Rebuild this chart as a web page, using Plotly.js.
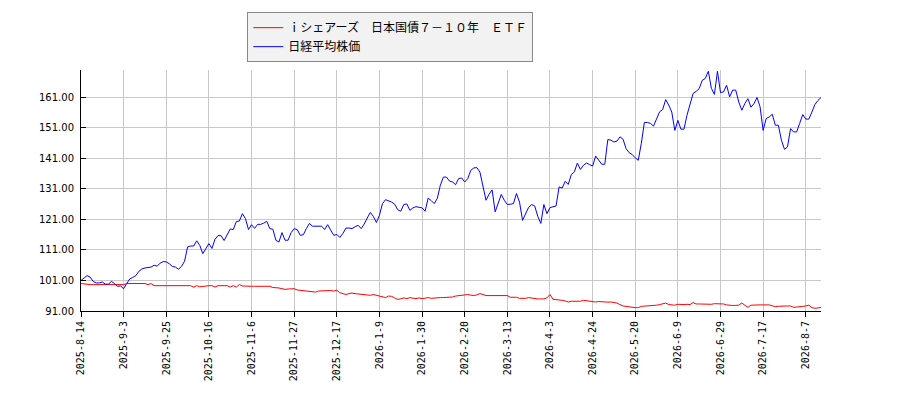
<!DOCTYPE html>
<html>
<head>
<meta charset="utf-8">
<script src="https://cdn.plot.ly/plotly-3.0.1.min.js"></script>
<style>html,body{margin:0;padding:0;background:#fff;}#chart{width:900px;height:400px;}</style>
</head>
<body>
<div id="chart"></div>
<script>
const seriesNames = ["ｉシェアーズ　日本国債７－１０年　ＥＴＦ", "日経平均株価"];

const tickLabels = ["2025-8-14","2025-9-3","2025-9-25","2025-10-16","2025-11-6","2025-11-27","2025-12-17","2026-1-9","2026-1-30","2026-2-20","2026-3-13","2026-4-3","2026-4-24","2026-5-20","2026-6-9","2026-6-29","2026-7-17","2026-8-7"];
const tickEvery = 14; // trading days between labelled dates

const etfValues = [
100.0, 99.8, 99.65, 99.65, 99.65, 99.65, 99.65, 99.65, 99.65, 99.65,
99.65, 99.65, 99.65, 99.65, 99.65, 100.0, 100.0, 100.0, 100.0, 100.0,
100.0, 100.0, 99.65, 100.0, 99.3, 99.3, 99.3, 99.3, 99.3, 99.3,
99.3, 99.3, 99.3, 99.3, 99.3, 99.3, 99.3, 98.8, 99.3, 98.95,
99.1, 99.3, 99.3, 99.3, 98.85, 99.3, 99.3, 99.3, 99.3, 98.85,
99.3, 98.85, 99.65, 99.2, 99.1, 99.1, 99.1, 99.1, 99.1, 99.1,
99.1, 99.1, 99.1, 98.7, 98.65, 98.55, 98.3, 98.1, 98.2, 98.3,
98.3, 97.9, 97.8, 97.7, 97.6, 97.45, 97.3, 97.2, 97.55, 97.6,
97.7, 97.8, 97.7, 97.55, 97.8, 97.0, 96.7, 96.4, 96.7, 96.9,
96.7, 96.6, 96.5, 96.5, 96.3, 96.15, 96.4, 96.1, 95.9, 95.6,
95.4, 95.9, 95.8, 95.3, 94.8, 95.0, 95.3, 95.05, 95.4, 95.2,
95.05, 95.3, 95.05, 95.2, 95.4, 95.15, 95.3, 95.4, 95.4, 95.4,
95.4, 95.4, 95.6, 95.9, 96.0, 96.1, 96.15, 96.4, 96.2, 96.05,
96.3, 96.7, 96.4, 96.05, 96.05, 96.05, 96.05, 96.05, 96.05, 96.05,
96.05, 95.5, 95.5, 95.5, 95.15, 95.15, 95.15, 95.4, 95.2, 95.0,
94.95, 94.95, 94.95, 95.3, 96.4, 94.85, 94.8, 94.7, 94.5, 94.3,
93.95, 94.2, 94.2, 94.2, 94.2, 94.5, 94.4, 94.4, 94.2, 93.95,
94.1, 94.0, 93.85, 93.9, 93.95, 93.8, 93.6, 93.1, 92.65, 92.5,
92.3, 92.2, 92.1, 92.1, 92.5, 92.6, 92.65, 92.7, 92.8, 92.9,
93.1, 93.3, 93.6, 93.1, 93.0, 92.9, 93.2, 93.1, 93.1, 93.2,
93.1, 93.75, 93.3, 93.3, 93.3, 93.3, 93.1, 93.2, 93.4, 93.4,
93.3, 93.3, 93.0, 92.8, 92.8, 92.85, 92.9, 93.6, 92.9, 92.2,
92.9, 93.0, 93.0, 93.0, 93.0, 93.0, 93.0, 92.7, 92.45, 92.55,
92.65, 92.65, 92.65, 92.65, 92.2, 92.3, 92.3, 92.5, 92.65, 92.9,
92.1, 91.9, 92.0, 92.2
];

const nikkeiValues = [
101.0, 101.9, 102.6, 102.1, 100.7, 100.2, 100.2, 100.5, 99.8, 99.8,
100.7, 100.0, 99.1, 99.2, 98.3, 100.0, 101.5, 102.0, 102.6, 104.0,
104.8, 105.1, 105.2, 105.4, 106.0, 105.7, 106.7, 107.2, 107.1, 106.5,
105.6, 105.4, 104.7, 105.6, 107.3, 112.0, 112.3, 112.3, 114.0, 112.5,
109.8, 111.7, 113.1, 111.5, 114.5, 115.7, 115.7, 114.1, 115.8, 117.9,
117.7, 120.3, 120.5, 122.9, 121.3, 117.7, 119.3, 118.1, 119.4, 119.4,
119.8, 120.4, 118.0, 117.8, 114.2, 113.6, 116.7, 114.2, 114.2, 116.7,
118.0, 117.7, 115.8, 116.0, 118.0, 119.7, 118.8, 118.8, 118.8, 118.8,
117.7, 119.3, 117.5, 115.8, 116.1, 115.1, 116.4, 118.2, 118.2, 118.0,
118.6, 119.1, 118.0, 119.5, 121.5, 123.3, 122.0, 120.0, 122.4, 126.2,
127.5, 127.1, 126.7, 126.0, 124.2, 123.7, 125.9, 126.1, 124.0, 124.8,
125.2, 125.0, 124.8, 123.7, 128.0, 127.2, 126.2, 127.9, 132.2, 134.9,
134.9, 133.6, 133.3, 132.4, 134.4, 134.6, 133.3, 134.4, 137.1, 137.9,
138.0, 136.5, 132.2, 127.3, 129.3, 130.7, 123.5, 126.7, 129.2, 127.3,
125.9, 126.0, 126.2, 129.5, 126.7, 120.7, 122.9, 125.0, 125.9, 125.4,
122.0, 119.7, 125.9, 122.9, 124.9, 125.2, 125.4, 131.7, 131.3, 133.5,
132.5, 135.7, 136.6, 139.5, 137.4, 138.8, 139.5, 139.0, 138.5, 141.8,
140.4, 139.1, 139.1, 147.2, 147.0, 146.4, 146.7, 148.1, 147.3, 144.2,
142.9, 142.3, 141.2, 140.4, 146.0, 152.8, 152.8, 152.5, 151.6, 154.3,
156.3, 157.0, 160.3, 158.5, 156.2, 150.2, 153.5, 150.6, 150.6, 155.2,
159.0, 162.3, 163.0, 163.9, 166.6, 167.2, 169.6, 164.0, 162.0, 169.6,
162.6, 162.8, 165.0, 161.2, 163.4, 163.4, 159.5, 156.8, 159.0, 160.6,
157.8, 159.0, 161.0, 157.9, 150.2, 154.1, 154.6, 155.5, 151.9, 151.9,
147.0, 144.0, 144.8, 150.8, 149.7, 149.7, 152.5, 155.4, 153.9, 153.9,
156.2, 158.7, 160.0, 161.0
];

const dayIndex = nikkeiValues.map((_, i) => i);
const tickPositions = tickLabels.map((_, i) => i * tickEvery);

const traces = [
  {x: dayIndex, y: etfValues, name: seriesNames[0], type: 'scatter', mode: 'lines',
   line: {color: '#ff0000', width: 1}},
  {x: dayIndex, y: nikkeiValues, name: seriesNames[1], type: 'scatter', mode: 'lines',
   line: {color: '#0000ff', width: 1}}
];

const layout = {
  width: 900, height: 400,
  margin: {l: 81, r: 79, t: 70, b: 89, pad: 0},
  paper_bgcolor: '#ffffff', plot_bgcolor: '#ffffff',
  showlegend: true,
  legend: {
    x: 0.2247, y: 1.24, xanchor: 'left', yanchor: 'top',
    bgcolor: '#f2f2f2', bordercolor: '#888888', borderwidth: 1,
    font: {family: '"Noto Sans CJK JP", sans-serif', size: 12, color: '#000'},
    tracegroupgap: 0
  },
  xaxis: {
    range: [0, dayIndex.length - 1],
    tickmode: 'array', tickvals: tickPositions, ticktext: tickLabels,
    tickangle: -90, ticks: 'outside', ticklen: 5, tickcolor: '#000', tickwidth: 1,
    showline: true, linecolor: '#000', linewidth: 1,
    showgrid: true, gridcolor: '#c8c8c8', gridwidth: 1, zeroline: false,
    tickfont: {family: '"DejaVu Sans Mono", monospace', size: 10, color: '#000'}
  },
  yaxis: {
    range: [91, 170], tick0: 91, dtick: 10, tickformat: '.2f',
    ticks: 'inside', ticklen: 5, tickcolor: '#000', tickwidth: 1,
    showline: true, linecolor: '#000', linewidth: 1,
    showgrid: true, gridcolor: '#c8c8c8', gridwidth: 1, zeroline: false,
    tickfont: {family: '"DejaVu Sans", sans-serif', size: 10, color: '#000'},
    ticklabelstandoff: 4
  }
};

Plotly.newPlot('chart', traces, layout, {displayModeBar: false, staticPlot: true});
</script>
</body>
</html>
